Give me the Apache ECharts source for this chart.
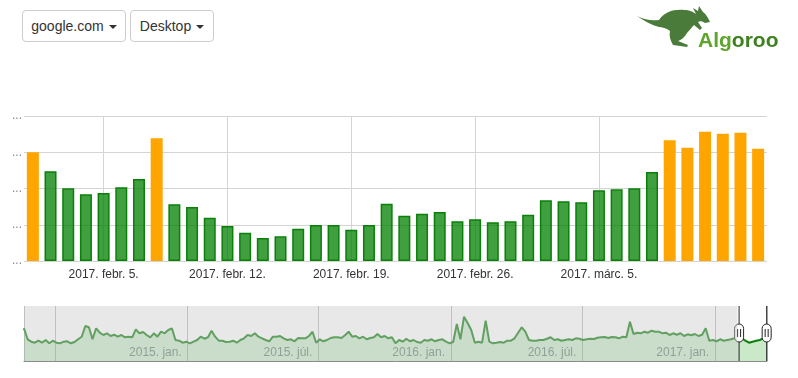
<!DOCTYPE html>
<html>
<head>
<meta charset="utf-8">
<script src="https://cdn.jsdelivr.net/npm/echarts@6/dist/echarts.min.js"></script>
<style>
html,body{margin:0;padding:0;background:#fff;}
#wrap{position:relative;width:798px;height:378px;overflow:hidden;font-family:"Liberation Sans",Arial,sans-serif;}
#chart{position:absolute;left:0;top:0;width:798px;height:378px;}
.btn{position:absolute;top:10px;height:32px;box-sizing:border-box;border:1px solid #ccc;border-radius:4px;background:#fff;color:#333;font-size:14px;display:flex;align-items:center;justify-content:center;z-index:2;}
.caret{display:inline-block;width:0;height:0;margin-left:5px;margin-top:1px;border-top:4px solid #333;border-left:4px solid transparent;border-right:4px solid transparent;}
#logo{position:absolute;left:630px;top:0;width:168px;height:55px;z-index:2;}
</style>
</head>
<body>
<div id="wrap">
  <div id="chart"></div>
  <div class="btn" style="left:22px;width:104px;">google.com<span class="caret"></span></div>
  <div class="btn" style="left:130px;width:84px;">Desktop<span class="caret"></span></div>
  <svg id="logo" viewBox="0 0 168 55" xmlns="http://www.w3.org/2000/svg">
    <path fill="#4b7b3a" d="M7,16 C15,20 22,21 29,20 C34,12 44,9 54,10 C60,10 63,12 66,14 L63,8 L68,11 L69,6 L73,12 C76,14 78,18 80,22 L75,23 C72,21 70,21 68,22 L72,28 L70,30 L64,25 C61,28 59,31 57,33 C55,37 51,40 48,41 L58,45 L57,47 L43,45 C40,40 39,35 40,31 C36,28 32,27 29,27 C22,25 14,21 7,16 Z"/>
    <text x="68" y="47" font-family="Liberation Sans, Arial, sans-serif" font-weight="bold" font-size="21"><tspan fill="#5ea52c">Alg</tspan><tspan fill="#3f8020">oroo</tspan></text>
  </svg>
</div>
<script>
// ---- main chart data ----
const categories = [
  '2017-02-01','2017-02-02','2017-02-03','2017-02-04','2017-02-05','2017-02-06','2017-02-07',
  '2017-02-08','2017-02-09','2017-02-10','2017-02-11','2017-02-12','2017-02-13','2017-02-14',
  '2017-02-15','2017-02-16','2017-02-17','2017-02-18','2017-02-19','2017-02-20','2017-02-21',
  '2017-02-22','2017-02-23','2017-02-24','2017-02-25','2017-02-26','2017-02-27','2017-02-28',
  '2017-03-01','2017-03-02','2017-03-03','2017-03-04','2017-03-05','2017-03-06','2017-03-07',
  '2017-03-08','2017-03-09','2017-03-10','2017-03-11','2017-03-12','2017-03-13','2017-03-14'
];
const barValues = [
  75.0, 61.9, 50.1, 46.0, 46.9, 50.8, 56.6,
  84.6, 39.1, 37.2, 29.9, 24.1, 19.5, 15.9,
  17.0, 22.3, 24.8, 24.8, 21.6, 24.8, 39.5,
  31.2, 32.6, 33.8, 27.4, 28.8, 26.7, 27.4,
  31.9, 41.9, 41.2, 40.5, 48.8, 49.4, 50.1,
  61.4, 83.2, 78.1, 89.2, 87.8, 88.5, 77.4
];
const flaggedDays = ['2017-02-01','2017-02-08','2017-03-09','2017-03-10','2017-03-11','2017-03-12','2017-03-13','2017-03-14'];
const weekTicks = ['2017-02-05','2017-02-12','2017-02-19','2017-02-26','2017-03-05'];
const huMonths = ['jan.','febr.','márc.','ápr.','máj.','jún.','júl.','aug.','szept.','okt.','nov.','dec.'];
const yMin = 0, yMax = 100, yInterval = 25;

// ---- overview (range filter) data: one reading every 5 days ----
const overviewStart = '2014-05-19';
const overviewStepDays = 5;
const overviewValues = [
  32.7,21.7,19.3,18.3,20.3,18.3,21,17.7,20.3,18.3,17.7,19.3,19.7,17.7,19,21.7,24.3,35,33.7,21.7,
  32.7,28.3,26,27.7,25,26.3,24.3,26,23.7,24.3,23.7,31.7,27.7,29,26,23.7,27.7,24.3,29.3,27.7,
  31,32.7,21,20.3,18.3,19.3,17.7,19.3,21,24.3,22.3,23.7,
  30.3,24.3,20.3,20.3,19,19.3,20.3,18.3,21,22.7,26,25,27.7,24.3,22.7,21,19.7,24.3,24.3,25,
  22.7,21,21.7,19.7,23,22.7,22.7,25,29.3,18.3,21.7,19.7,21,23,23.7,23.7,23,25.7,29.3,24.3,
  25,22.7,24.3,21.7,23,23.7,27,23.7,25,22.7,23.7,
  17.7,21,19.3,22.3,19.7,21,19,18.3,21,20.3,21.7,19.7,21,21.7,19.3,17.7,19,37,21.7,44.3,
  38,31,18.3,19.3,18.3,40.3,19.3,17.7,18.3,19,18.3,20.3,20.3,22.7,28.3,33.7,29.3,21,20.3,20.3,
  21,21,22.3,23.7,21,21.7,20.3,21,21.7,21,22.7,22.3,
  21,21.7,22.3,22,23.3,23.7,24,23,24,23.7,22.7,24.3,23.7,39.3,27,28.3,27.7,29.3,28.3,30.3,
  29.3,29.3,27.7,28.3,26,27.7,26.3,27.7,25,26.7,25.7,27,25,26.3,32.7,20.3,21,19.7,21.7,20.3,
  21,21.7,22.7,23.7,23,20.3,18.3,19.3,20.3,21,22.7,25
];
const overviewMin = 0, overviewMax = 55;

const DAY = 86400000;
const ts = s => Date.parse(s);
const overviewPoints = overviewValues.map((v, i) => [ts(overviewStart) + i * overviewStepDays * DAY, v]);
const overviewEnd = overviewPoints[overviewPoints.length - 1][0];
const windowStart = ts(categories[0]);
const windowEnd = ts(categories[categories.length - 1]);

const fmtDay = v => { const p = v.split('-').map(Number); return p[0] + '. ' + huMonths[p[1] - 1] + ' ' + p[2] + '.'; };
const isWeekTick = (i, v) => weekTicks.indexOf(v) >= 0;

const greenStyle = { color: 'rgba(0,128,0,0.75)', borderColor: '#0a7f0a', borderWidth: 1.5 };
const orangeStyle = { color: '#ffa500', borderColor: '#ffa500', borderWidth: 1.5 };

const handlePath = 'path://M5,0L5,19M5,37L5,55M0.5,23.5A4.5,4.5,0,0,1,9.5,23.5L9.5,32.5A4.5,4.5,0,0,1,0.5,32.5ZM3.5,24L3.5,32M6.5,24L6.5,32';

const chart = echarts.init(document.getElementById('chart'), null, { renderer: 'canvas' });
chart.setOption({
  useUTC: true,
  animation: false,
  backgroundColor: '#fff',
  textStyle: { fontFamily: 'Liberation Sans, Arial, sans-serif' },
  grid: [
    { left: 24, right: 31, top: 116, height: 145 },
    { left: 24, right: 31, top: 306, height: 55 },
    { left: 24, right: 31, top: 306, height: 55, show: false }
  ],
  xAxis: [
    {
      gridIndex: 0, type: 'category', data: categories, boundaryGap: true,
      axisLine: { show: false }, axisTick: { show: false },
      axisLabel: { interval: isWeekTick, formatter: fmtDay, color: '#333', fontSize: 12, margin: 8 },
      splitLine: { show: true, interval: isWeekTick, alignWithLabel: true, lineStyle: { color: '#d4d4d4', width: 1 } }
    },
    {
      gridIndex: 1, type: 'time', min: ts(overviewStart), max: overviewEnd, splitNumber: 5,
      axisLine: { show: true, lineStyle: { color: '#8a8a8a', width: 1 } },
      axisTick: { show: false },
      splitLine: { show: true, lineStyle: { color: '#b8b8b8', width: 1 } },
      axisLabel: {
        inside: true, align: 'right', padding: [0, 6, 0, 0], margin: 2,
        color: '#77778a', fontSize: 12, textBorderColor: '#fff', textBorderWidth: 2,
        formatter: function (val) {
          const d = new Date(val);
          const y = d.getUTCFullYear(), m = d.getUTCMonth();
          if (y < 2015 || d.getUTCDate() !== 1 || (m !== 0 && m !== 6)) return '';
          return y + '. ' + huMonths[m];
        }
      }
    },
    { gridIndex: 2, type: 'time', min: ts(overviewStart), max: overviewEnd, show: false }
  ],
  yAxis: [
    {
      gridIndex: 0, type: 'value', min: yMin, max: yMax, interval: yInterval,
      axisLine: { show: false }, axisTick: { show: false },
      axisLabel: { formatter: () => '...', color: '#888', fontSize: 12, margin: 2 },
      splitLine: { lineStyle: { color: '#d4d4d4', width: 1 } }
    },
    { gridIndex: 1, type: 'value', min: overviewMin, max: overviewMax, show: false },
    { gridIndex: 2, type: 'value', min: overviewMin, max: overviewMax, show: false }
  ],
  series: [
    {
      type: 'bar', xAxisIndex: 0, yAxisIndex: 0, barWidth: 12,
      data: categories.map((c, i) => ({
        value: barValues[i],
        itemStyle: flaggedDays.indexOf(c) >= 0 ? orangeStyle : greenStyle
      }))
    },
    {
      type: 'line', xAxisIndex: 1, yAxisIndex: 1, data: overviewPoints,
      symbol: 'none', silent: true,
      lineStyle: { color: '#0a7d0a', width: 2 },
      areaStyle: { color: 'rgba(0,150,0,0.3)' },
      markArea: {
        silent: true, z: 5,
        itemStyle: { color: 'rgba(205,205,205,0.45)' },
        data: [[{ xAxis: ts(overviewStart) }, { xAxis: windowStart }]]
      }
    },
    {
      type: 'line', xAxisIndex: 2, yAxisIndex: 2, data: overviewPoints,
      symbol: 'none', silent: true, lineStyle: { opacity: 0 }
    }
  ],
  dataZoom: [{
    type: 'slider', xAxisIndex: 2, filterMode: 'none',
    left: 24, right: 31, top: 306, height: 55,
    startValue: windowStart, endValue: windowEnd,
    showDataShadow: false, showDetail: false, brushSelect: false, zoomLock: true,
    backgroundColor: 'rgba(0,0,0,0)', fillerColor: 'rgba(0,0,0,0)', borderColor: 'rgba(0,0,0,0)',
    handleIcon: handlePath, handleSize: '100%',
    handleStyle: { color: '#fff', borderColor: '#222', borderWidth: 1 },
    moveHandleSize: 0, moveHandleStyle: { opacity: 0 },
    dataBackground: { lineStyle: { opacity: 0 }, areaStyle: { opacity: 0 } },
    selectedDataBackground: { lineStyle: { opacity: 0 }, areaStyle: { opacity: 0 } },
    emphasis: { handleStyle: { color: '#fff', borderColor: '#222', borderWidth: 1 }, moveHandleStyle: { opacity: 0 } }
  }]
});
</script>
</body>
</html>
